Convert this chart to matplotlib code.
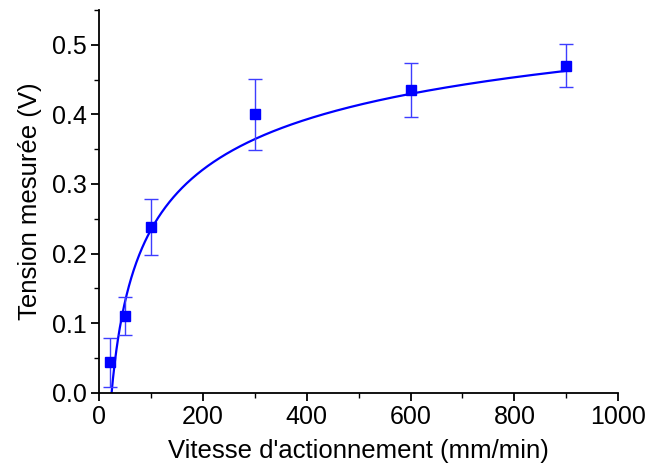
import numpy as np
import matplotlib
matplotlib.use('Agg')
import matplotlib.pyplot as plt
from matplotlib.ticker import MultipleLocator, FormatStrFormatter

plt.rcParams['font.family'] = ['Liberation Sans', 'DejaVu Sans']

# valeurs
vitesse = [20, 50, 100, 300, 600, 900]
tension = [0.044, 0.110, 0.238, 0.400, 0.435, 0.470]
erreur = [0.035, 0.027, 0.040, 0.051, 0.039, 0.031]

# courbe d'ajustement y = A - B * x**(-p), parametres
fit_A = 0.763
fit_B = 1.726
fit_p = 0.257

x_fit = np.linspace(min(vitesse), max(vitesse), 800)
y_fit = fit_A - fit_B * x_fit ** (-fit_p)

fig = plt.figure(figsize=(6.48, 4.75), dpi=100)
ax = fig.add_axes([0.153, 0.173, 0.801, 0.806])

ax.plot(x_fit, y_fit, color='#0000ff', lw=1.6, zorder=2)
ax.errorbar(vitesse, tension, yerr=erreur, fmt='none', ecolor='#3d3dff',
            elinewidth=1.0, capsize=5, capthick=1.0, zorder=3)
ax.plot(vitesse, tension, 's', color='#0000ff', ms=7, zorder=4)

ax.set_xlim(0, 1000)
ax.set_ylim(0, 0.55)
ax.xaxis.set_major_locator(MultipleLocator(200))
ax.xaxis.set_minor_locator(MultipleLocator(100))
ax.yaxis.set_major_locator(MultipleLocator(0.1))
ax.yaxis.set_minor_locator(MultipleLocator(0.05))
ax.yaxis.set_major_formatter(FormatStrFormatter('%.1f'))

for s in ['top', 'right']:
    ax.spines[s].set_visible(False)
for s in ['left', 'bottom']:
    ax.spines[s].set_linewidth(1.3)

ax.tick_params(which='major', direction='out', length=6, width=1.3,
               labelsize=18, pad=3)
ax.tick_params(which='minor', direction='out', length=3.5, width=1.0)

ax.set_xlabel("Vitesse d'actionnement (mm/min)", fontsize=18.5, labelpad=7)
ax.set_ylabel('Tension mesurée (V)', fontsize=18.5, labelpad=7)

fig.savefig('out.png', dpi=100)
